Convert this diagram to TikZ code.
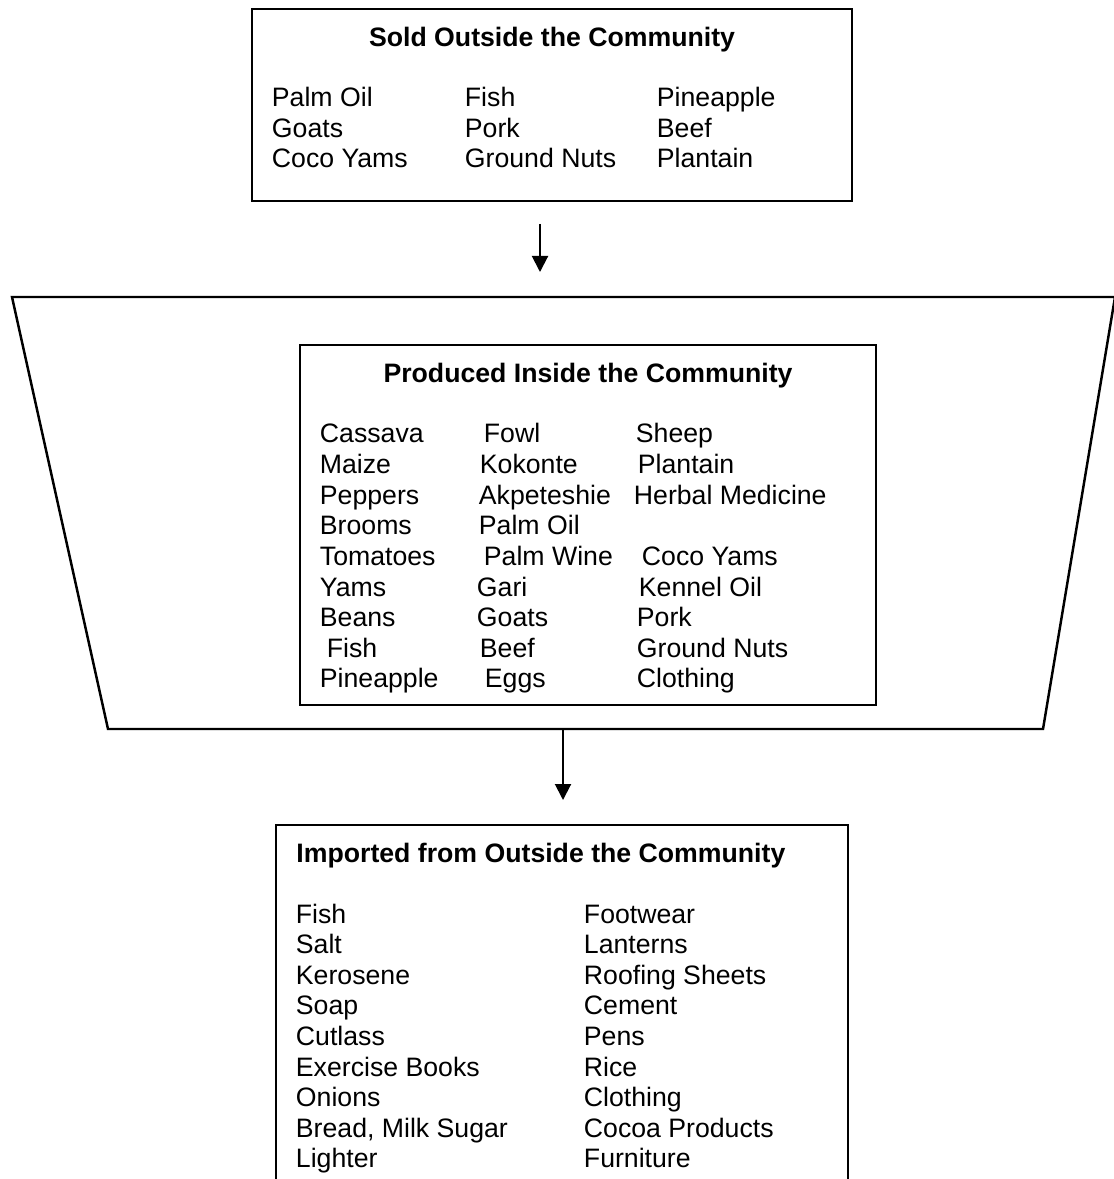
\documentclass[tikz,border=0pt]{standalone}
\usepackage{fontspec}
\setmainfont{Liberation Sans}
\usetikzlibrary{arrows.meta}
\begin{document}
\begin{tikzpicture}[x=0.45pt, y=-0.45pt,
  box/.style={draw, line width=1.1pt, inner sep=0pt, outer sep=0pt},
  item/.style={anchor=base west, inner sep=0pt, font=\fontsize{12}{13.8}\selectfont},
  head/.style={inner sep=0pt, font=\fontsize{12}{13.8}\selectfont\bfseries},
  arr/.style={line width=0.9pt, -{Triangle[length=7.2pt,width=7.2pt]}}]
\useasboundingbox (0,0) rectangle (1113,1179);

% --- goods sold outside ---
\node[box, minimum width=270pt, minimum height=86.4pt] (sold) at (552,105) {};
\node[head, anchor=base] (soldhead) at (552,46.5) {Sold Outside the Community};
\foreach \x/\r/\t/\n in {
  273/0/Palm Oil/s1, 273/1/Goats/s2, 273/2/Coco Yams/s3,
  466/0/Fish/s4, 466/1/Pork/s5, 466/2/Ground Nuts/s6,
  658/0/Pineapple/s7, 658/1/Beef/s8, 658/2/Plantain/s9}
  \node[item] (\n) at (\x-1.5,{107+30.5*\r}) {\t};

% --- the community (trapezoid) ---
\draw[line width=1.1pt] (12,297) coordinate (cNW) -- (1115,297) coordinate (cNE)
  -- (1043,729) coordinate (cSE) -- (108,729) coordinate (cSW) -- cycle;

% --- goods produced inside ---
\node[box, minimum width=259.2pt, minimum height=162pt] (prod) at (588,525) {};
\node[head, anchor=base] (prodhead) at (588,382.5) {Produced Inside the Community};
\foreach \x/\r/\t/\n in {
  321/0/Cassava/p1, 485/0/Fowl/p2, 637/0/Sheep/p3,
  321/1/Maize/p4, 481/1/Kokonte/p5, 639/1/Plantain/p6,
  321/2/Peppers/p7, 480/2/Akpeteshie/p8, 635/2/Herbal Medicine/p9,
  321/3/Brooms/p10, 480/3/Palm Oil/p11,
  321/4/Tomatoes/p12, 485/4/Palm Wine/p13, 643/4/Coco Yams/p14,
  321/5/Yams/p15, 478/5/Gari/p16, 640/5/Kennel Oil/p17,
  321/6/Beans/p18, 478/6/Goats/p19, 638/6/Pork/p20,
  328/7/Fish/p21, 481/7/Beef/p22, 638/7/Ground Nuts/p23,
  321/8/Pineapple/p24, 486/8/Eggs/p25, 638/8/Clothing/p26}
  \node[item] (\n) at (\x-1.5,{443+30.6*\r}) {\t};

% --- goods imported (box open at the bottom) ---
\node[inner sep=0pt, outer sep=0pt, minimum width=257.4pt, minimum height=159.3pt] (imp) at (562,1002) {};
\draw[line width=1.1pt] (imp.south west) -- (imp.north west) -- (imp.north east) -- (imp.south east);
\node[head, anchor=base west] (imphead) at (296,862.5) {Imported from Outside the Community};
\foreach \x/\r/\t/\n in {
  297/0/Fish/i1, 297/1/Salt/i2, 297/2/Kerosene/i3, 297/3/Soap/i4,
  297/4/Cutlass/i5, 297/5/Exercise Books/i6, 297/6/Onions/i7,
  297/7/{Bread, Milk Sugar}/i8, 297/8/Lighter/i9,
  585/0/Footwear/i10, 585/1/Lanterns/i11, 585/2/Roofing Sheets/i12,
  585/3/Cement/i13, 585/4/Pens/i14, 585/5/Rice/i15, 585/6/Clothing/i16,
  585/7/Cocoa Products/i17, 585/8/Furniture/i18}
  \node[item] (\n) at (\x-1.5,{923+30.6*\r}) {\t};

% --- flow arrows ---
\coordinate (a1s) at (540,224);
\coordinate (a1e) at (540,272);
\draw[arr] (a1s) -- (a1e);
\coordinate (a2s) at (563,729);
\coordinate (a2e) at (563,800);
\draw[arr] (a2s) -- (a2e);
\end{tikzpicture}
\end{document}
